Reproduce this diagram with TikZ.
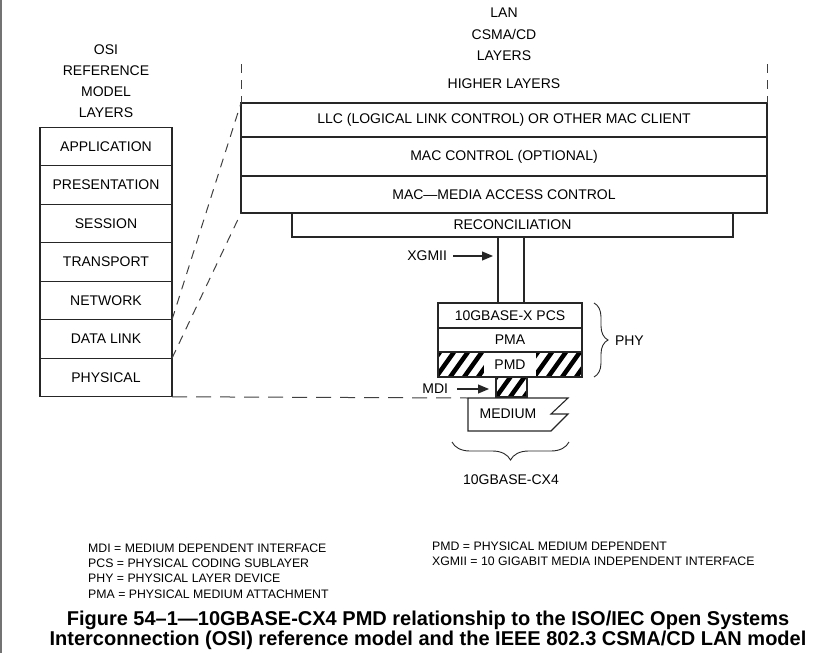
\documentclass[tikz,border=0pt]{standalone}
\usepackage{fontspec}
\setmainfont{Liberation Sans}
\usetikzlibrary{positioning}
\usetikzlibrary{decorations.pathreplacing}
\usetikzlibrary{arrows.meta}
\tikzset{boxline/.style = {draw=black!85, line width=1.1pt},
         laybox/.style = {boxline, inner sep=0pt, outer sep=0pt,
                          font=\fontsize{14}{16}\selectfont},
         osilayer/.style = {laybox, minimum width=132pt, minimum height=38.5pt},
         lanlayer/.style = {laybox, minimum width=526pt},
         phylayer/.style = {laybox, minimum width=144pt},
         lbl/.style = {inner sep=0pt, outer sep=0pt, font=\fontsize{14}{16}\selectfont},
         keytext/.style = {inner sep=0pt, anchor=west, font=\fontsize{12.3}{14}\selectfont},
         dashline/.style = {draw=black!75, line width=1pt, dash pattern=on 9pt off 7pt},
         pointer/.style = {boxline, -{Triangle[length=11pt, width=9pt]}},
         curly/.style = {draw=black!85, line width=0.9pt, decorate,
                         decoration={brace, amplitude=#1}},
         stripe/.style = {draw=black, line width=4.5pt}}

\begin{document}
\begin{tikzpicture}[x=1pt, y=-1pt]
    \useasboundingbox (0,0) rectangle (824,653);
    \draw [black!55, line width=1.5pt] (1,0) -- (1,653);

    \node [osilayer] (app) at (106,146.5) {APPLICATION};
    \node [osilayer, below=0pt of app] (pres) {PRESENTATION};
    \node [osilayer, below=0pt of pres] (sess) {SESSION};
    \node [osilayer, below=0pt of sess] (trans) {TRANSPORT};
    \node [osilayer, below=0pt of trans] (net) {NETWORK};
    \node [osilayer, below=0pt of net] (dlink) {DATA LINK};
    \node [osilayer, below=0pt of dlink] (phys) {PHYSICAL};
    \node [lbl, align=center, font=\fontsize{14}{21}\selectfont, above=10pt of app] (osititle)
      {OSI\\REFERENCE\\MODEL\\LAYERS};

    \node [lbl, minimum width=526pt, minimum height=39pt] (higher) at (504,83.5) {HIGHER LAYERS};
    \node [lanlayer, minimum height=34pt, below=0pt of higher] (llc) {LLC (LOGICAL LINK CONTROL) OR OTHER MAC CLIENT};
    \node [lanlayer, minimum height=39pt, below=0pt of llc] (macctl) {MAC CONTROL (OPTIONAL)};
    \node [lanlayer, minimum height=37pt, below=0pt of macctl] (mac) {MAC—MEDIA ACCESS CONTROL};
    \node [lanlayer, minimum width=441pt, minimum height=24pt, below=0pt of mac, xshift=8.5pt] (recon) {RECONCILIATION};
    \node [lbl, align=center, font=\fontsize{14}{21.5}\selectfont, above=3pt of higher] (lantitle)
      {LAN\\CSMA/CD\\LAYERS};

    \node [lbl, minimum width=26pt, minimum height=66pt, below=0pt of recon, xshift=-1.5pt] (bus) {};
    \draw [boxline] (bus.north west) -- (bus.south west) (bus.north east) -- (bus.south east);
    \node [phylayer, minimum height=25pt, below=0pt of bus, xshift=-1pt] (pcs) {10GBASE-X PCS};
    \node [phylayer, minimum height=24pt, below=0pt of pcs] (pma) {PMA};
    \node [phylayer, minimum height=25pt, below=0pt of pma] (pmd) {};
    \node [lbl, minimum width=31pt, minimum height=20pt, below=0pt of pmd, xshift=1.5pt] (mdibus) {};

    \begin{scope}
      \clip (pmd.north west) rectangle (pmd.south east);
      \foreach \k in {0,...,12}
        \draw [stripe] (420+\k*14, 380) -- ++(20,-28);
    \end{scope}
    \node [lbl, fill=white, minimum width=52pt, minimum height=25pt] (pmdtext) at (pmd) {PMD};
    \draw [boxline] (pmd.north west) rectangle (pmd.south east);

    \begin{scope}
      \clip (mdibus.north west) rectangle (mdibus.south east);
      \foreach \k in {0,...,4}
        \draw [stripe] (480+\k*14, 400) -- ++(20,-28);
    \end{scope}
    \draw [boxline] (mdibus.north west) rectangle (mdibus.south east);

    \coordinate (medtl) at (468,398);
    \draw [boxline] (medtl) -- (568,398) -- (551,414) -- (568,414) -- (551,431) -- (468,431) -- cycle;
    \node [lbl] (medium) at (508,414) {MEDIUM};

    \draw [dashline] (higher.north west) -- (higher.south west);
    \draw [dashline] (higher.north east) -- (higher.south east);
    \draw [dashline] (dlink.north east) -- (llc.north west);
    \draw [dashline] (dlink.south east) -- (mac.south west);
    \draw [dashline, dash pattern=on 15pt off 9pt] (phys.south east) -- (medtl);

    \node [lbl, anchor=east] (xgmii) at (447,256) {XGMII};
    \draw [pointer, shorten <=6pt, shorten >=5pt] (xgmii) -- (xgmii -| bus.west);
    \node [lbl, anchor=east] (mdi) at (448,389) {MDI};
    \draw [pointer, shorten <=9pt, shorten >=7pt] (mdi) -- (mdi -| mdibus.west);

    \draw [curly=14pt] ([xshift=12pt]pcs.north east) -- ([xshift=12pt]pmd.south east);
    \node [lbl, anchor=west] (phy) at (615,341) {PHY};
    \draw [curly=18pt] (569,442) -- (452,442);
    \node [lbl] (cx4) at (511,480) {10GBASE-CX4};

    \node [keytext] (kmdi) at (88,548) {MDI = MEDIUM DEPENDENT INTERFACE};
    \node [keytext] (kpcs) at (88,563) {PCS = PHYSICAL CODING SUBLAYER};
    \node [keytext] (kphy) at (88,578) {PHY = PHYSICAL LAYER DEVICE};
    \node [keytext] (kpma) at (88,594) {PMA = PHYSICAL MEDIUM ATTACHMENT};
    \node [keytext] (kpmd) at (432,546) {PMD = PHYSICAL MEDIUM DEPENDENT};
    \node [keytext] (kxgmii) at (432,561) {XGMII = 10 GIGABIT MEDIA INDEPENDENT INTERFACE};

    \node [align=center, inner sep=0pt, font=\fontsize{20}{20}\selectfont\bfseries] (caption) at (428,630)
      {Figure 54–1—10GBASE-CX4 PMD relationship to the ISO/IEC Open Systems\\
       Interconnection (OSI) reference model and the IEEE 802.3 CSMA/CD LAN model};
\end{tikzpicture}
\end{document}
